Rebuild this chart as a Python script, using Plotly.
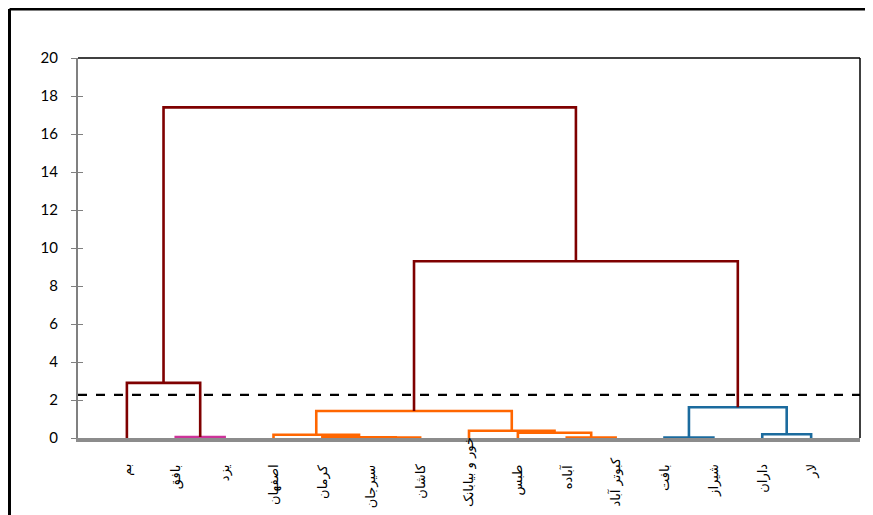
import plotly.graph_objects as go

# ---- data ----
leaves = ["بم", "بافق", "یزد", "اصفهان", "کرمان", "سیرجان", "کاشان",
          "خور و بیابانک", "طبس", "آباده", "کبوتر آباد", "بافت", "شیراز", "داران", "لار"]

# merges: (child_a, child_b, height, colour_key); ids < 15 are leaves, new clusters get 15, 16, ...
merge_a = [1, 0, 5, 4, 3, 9, 8, 7, 19, 11, 13, 24, 23, 16]
merge_b = [2, 15, 6, 17, 18, 10, 20, 21, 22, 12, 14, 25, 26, 27]
merge_h = [0.05, 2.9, 0.02, 0.04, 0.17, 0.02, 0.28, 0.38, 1.42, 0.03, 0.2, 1.62, 9.3, 17.4]
merge_c = ["magenta", "dark", "orange", "orange", "orange", "orange", "orange", "orange",
           "orange", "blue", "blue", "blue", "dark", "dark"]

cut_height = 2.27
y_ticks = [0, 2, 4, 6, 8, 10, 12, 14, 16, 18, 20]

# ---- styles ----
colours = {"dark": "#7F0000", "magenta": "#CC3399", "orange": "#FF6600", "blue": "#1B6B9E"}
# long labels are pushed up so they end at the bottom edge (as in the reference)
label_bottom_anchored = {"خور و بیابانک", "کبوتر آباد"}

# ---- build dendrogram links ----
n = len(leaves)
pos = {i: i + 1 for i in range(n)}
hgt = {i: 0.0 for i in range(n)}

fig = go.Figure()
for k, (a, b, h, c) in enumerate(zip(merge_a, merge_b, merge_h, merge_c)):
    xa, xb = pos[a], pos[b]
    fig.add_trace(go.Scatter(
        x=[xa, xa, xb, xb], y=[hgt[a], h, h, hgt[b]],
        mode="lines", line=dict(color=colours[c], width=2.6),
        hoverinfo="skip", showlegend=False))
    new = n + k
    pos[new] = (xa + xb) / 2
    hgt[new] = h

# cut line
fig.add_trace(go.Scatter(x=[0, len(leaves) + 1], y=[cut_height, cut_height], mode="lines",
                         line=dict(color="black", width=2.4, dash="dash"),
                         hoverinfo="skip", showlegend=False))

shapes = [
    # plot-frame top and right (black)
    dict(type="line", xref="paper", yref="paper", x0=0, x1=1, y0=1, y1=1,
         line=dict(color="black", width=1.5)),
    dict(type="line", xref="paper", yref="paper", x0=1, x1=1, y0=0, y1=1,
         line=dict(color="black", width=1.5)),
    # outer box (left and top edges)
    dict(type="line", xref="paper", yref="paper", x0=-0.0876, x1=-0.0876, y0=-0.25, y1=1.1289,
         line=dict(color="black", width=3)),
    dict(type="line", xref="paper", yref="paper", x0=-0.0876, x1=1.05, y0=1.1289, y1=1.1289,
         line=dict(color="black", width=3)),
]

# category labels, placed on the x axis scale
annotations = []
for i, name in enumerate(leaves):
    bottom = name in label_bottom_anchored
    annotations.append(dict(
        x=i + 1, xref="x", yref="paper",
        y=-0.1868 if bottom else -0.0632,
        yanchor="bottom" if bottom else "top", xanchor="center",
        text=name, textangle=-90, showarrow=False,
        font=dict(family="DejaVu Sans", size=13, color="black")))

fig.update_layout(
    width=873, height=515,
    margin=dict(l=70, r=21, t=50, b=85, autoexpand=False),
    paper_bgcolor="white", plot_bgcolor="white",
    shapes=shapes, annotations=annotations,
    xaxis=dict(range=[0, len(leaves) + 1], tickmode="array",
               tickvals=list(range(1, len(leaves) + 1)), showticklabels=False,
               ticks="", showgrid=False, zeroline=False, automargin=False,
               showline=True, linecolor="#8C8C8C", linewidth=3.5, layer="below traces"),
    yaxis=dict(range=[0, 20], tickmode="array", tickvals=y_ticks, automargin=False,
               ticks="outside", ticklen=5, tickcolor="#808080", tickwidth=1.2,
               showgrid=False, zeroline=False, showline=True, linecolor="#808080", linewidth=2,
               tickfont=dict(family="Lato", size=15, color="black"),
               ticklabelstandoff=10),
    yaxis2=dict(range=[0, 20], overlaying="y", side="left", tickmode="array", tickvals=y_ticks,
                ticks="inside", ticklen=5, tickcolor="#808080", tickwidth=1.2, automargin=False,
                showticklabels=False, showgrid=False, zeroline=False, showline=False),
)
fig.add_trace(go.Scatter(x=[None], y=[None], yaxis="y2", showlegend=False, hoverinfo="skip"))

fig.write_html("out.html")
